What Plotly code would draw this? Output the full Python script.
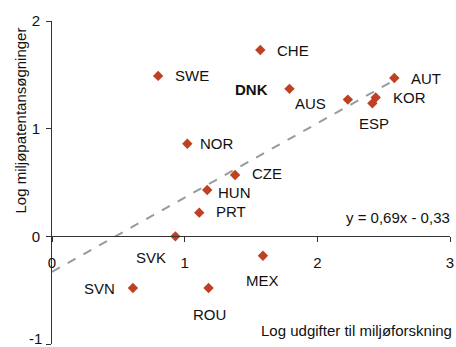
import plotly.graph_objects as go

countries = ["SWE", "NOR", "CHE", "DNK", "AUS", "KOR", "ESP", "AUT", "CZE", "HUN", "PRT", "SVK", "SVN", "ROU", "MEX"]
x_vals = [0.80, 1.02, 1.57, 1.79, 2.23, 2.44, 2.415, 2.58, 1.38, 1.17, 1.11, 0.93, 0.61, 1.18, 1.59]
y_vals = [1.49, 0.86, 1.73, 1.37, 1.27, 1.29, 1.235, 1.47, 0.57, 0.43, 0.22, 0.00, -0.48, -0.48, -0.18]
slope, intercept = 0.69, -0.33
eq_text = "y = 0,69x - 0,33"
x_title = "Log udgifter til miljøforskning"
y_title = "Log miljøpatentansøgninger"
x_ticks = [0, 1, 2, 3]
y_ticks = [-1, 0, 1, 2]
y_tick_text = ["", "0", "1", "2"]  # "-1" drawn as annotation so it stays inside the page

# label placement: (xanchor, xshift, yshift)
label_pos = {
    "SWE": ("left", 15, 0), "NOR": ("left", 11, 0), "CHE": ("left", 15, 0),
    "DNK": ("right", -19, -1), "AUS": ("right", -20, -4), "KOR": ("left", 15, 0),
    "ESP": ("center", 2, -20), "AUT": ("left", 15, 0), "CZE": ("left", 15, 1),
    "HUN": ("left", 9, -2), "PRT": ("left", 15, 1), "SVK": ("center", -24, -21),
    "SVN": ("right", -16, 0), "ROU": ("center", 1, -26), "MEX": ("center", 0, -25),
}

FONT = "Liberation Sans, Arial, sans-serif"
fig = go.Figure()
tx = [0, max(x_vals)]
fig.add_trace(go.Scatter(x=tx, y=[slope * v + intercept for v in tx], mode="lines",
                         line=dict(color="#9a9a9a", width=2, dash="dash"),
                         hoverinfo="skip", showlegend=False))
fig.add_trace(go.Scatter(x=x_vals, y=y_vals, mode="markers",
                         marker=dict(symbol="diamond", size=8, color="#BF4124"),
                         showlegend=False))

for c, xv, yv in zip(countries, x_vals, y_vals):
    anc, xs, ys = label_pos[c]
    txt = "<b>%s</b>" % c if c == "DNK" else c
    fig.add_annotation(x=xv, y=yv, text=txt, showarrow=False, xanchor=anc, yanchor="middle",
                       xshift=xs, yshift=ys, font=dict(family=FONT, size=15, color="#111"))

fig.add_annotation(x=0, y=y_ticks[0], text=str(y_ticks[0]), showarrow=False, xanchor="right",
                   yanchor="bottom", xshift=-9, yshift=-4, borderpad=0,
                   font=dict(family=FONT, size=15, color="#111"))
fig.add_annotation(x=3, y=0, text=eq_text, showarrow=False, xanchor="right", yanchor="middle",
                   xshift=2, yshift=19, font=dict(family=FONT, size=15, color="#111"))
fig.add_annotation(x=1, y=0, xref="paper", yref="paper", text=x_title, showarrow=False,
                   xanchor="right", yanchor="middle", xshift=4, yshift=14,
                   font=dict(family=FONT, size=15, color="#111"))
fig.add_annotation(x=0, y=0.5, xref="paper", yref="paper", text=y_title, showarrow=False,
                   textangle=-90, xanchor="center", yanchor="middle", xshift=-32, yshift=62,
                   font=dict(family=FONT, size=15, color="#111"))

fig.update_layout(
    width=456, height=347, margin=dict(l=52, r=6, t=21, b=3),
    plot_bgcolor="white", paper_bgcolor="white",
    font=dict(family=FONT, size=15, color="#111"),
    xaxis=dict(range=[0, 3], tickvals=x_ticks, ticks="outside", ticklen=5, tickcolor="#333",
               showline=True, linecolor="#333", linewidth=1, showgrid=False, zeroline=False,
               anchor="free", position=1/3, ticklabelstandoff=8, automargin=False),
    yaxis=dict(range=[-1, 2], tickvals=y_ticks, ticktext=y_tick_text, ticks="outside", ticklen=5,
               tickcolor="#333", showline=True, linecolor="#333", linewidth=1, showgrid=False,
               zeroline=False, ticklabelstandoff=3, automargin=False),
)
fig.write_html("out.html")
